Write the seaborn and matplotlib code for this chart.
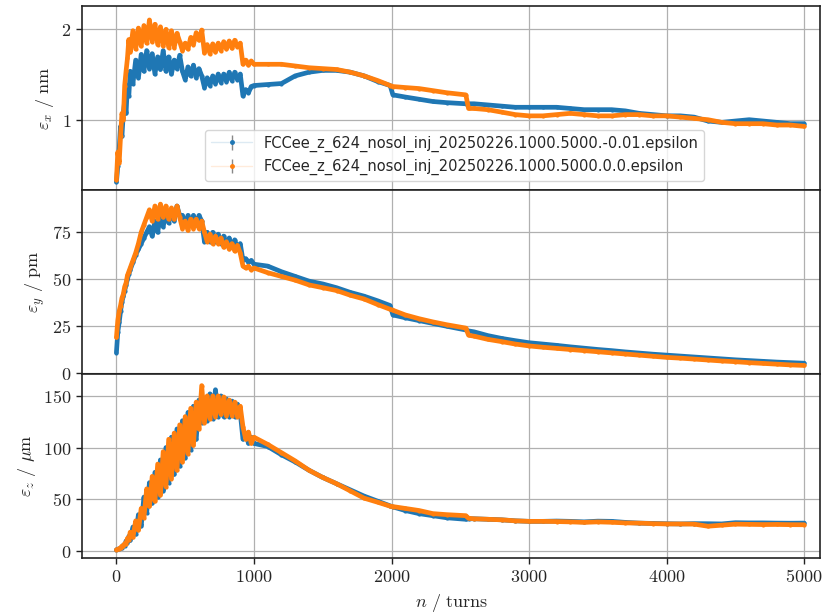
import numpy as np
import pandas as pd
import matplotlib
matplotlib.use("Agg")
import matplotlib.pyplot as plt
import seaborn as sns
from matplotlib.ticker import FixedLocator, FuncFormatter, NullLocator

# ---- data -------------------------------------------------------------
runs = [
    "FCCee_z_624_nosol_inj_20250226.1000.5000.-0.01.epsilon",
    "FCCee_z_624_nosol_inj_20250226.1000.5000.0.0.epsilon",
]
colors = ["#1f77b4", "#ff7f0e"]

turns = [0, 10, 20, 30, 40, 50, 60, 70, 80, 90, 100,
         120, 140, 160, 180, 200, 220, 240, 260, 280, 300,
         320, 340, 360, 380, 400, 420, 440, 460, 480, 500,
         520, 540, 560, 580, 600, 620, 640, 660, 680, 700,
         720, 740, 760, 780, 800, 820, 840, 860, 880, 900,
         920, 940, 960, 980, 1000,
         1100, 1200, 1300, 1400, 1500, 1600, 1700, 1800, 1900, 1990,
         2010, 2100, 2200, 2300, 2400, 2540, 2560, 2600, 2700, 2800,
         2900, 3000, 3100, 3200, 3300, 3400, 3500, 3600, 3700, 3800,
         3900, 4000, 4100, 4200, 4300, 4400, 4500, 4600, 4700, 4800,
         4900, 5000]

# horizontal emittance / nm
eps_x_a = [0.62, 0.70, 0.80, 0.95, 0.88, 1.05, 1.15, 1.05, 1.30, 1.20, 1.45,
           1.32, 1.58, 1.38, 1.65, 1.45, 1.70, 1.48, 1.66, 1.42, 1.62,
           1.47, 1.70, 1.45, 1.62, 1.42, 1.58, 1.48, 1.64, 1.45, 1.36,
           1.50, 1.40, 1.52, 1.38, 1.48, 1.40, 1.28, 1.38, 1.30, 1.40,
           1.32, 1.42, 1.33, 1.42, 1.34, 1.44, 1.35, 1.44, 1.36, 1.42,
           1.20, 1.26, 1.23, 1.29, 1.30,
           1.31, 1.32, 1.40, 1.44, 1.46, 1.46, 1.44, 1.40, 1.34, 1.30,
           1.21, 1.19, 1.17, 1.15, 1.14, 1.13, 1.13, 1.13, 1.12, 1.11,
           1.10, 1.10, 1.10, 1.10, 1.09, 1.08, 1.08, 1.08, 1.07, 1.05,
           1.04, 1.03, 1.03, 1.02, 0.99, 0.98, 0.99, 1.00, 0.99, 0.98,
           0.97, 0.97]
eps_x_b = [0.63, 0.78, 0.72, 0.88, 1.05, 1.00, 1.30, 1.45, 1.60, 1.85, 1.68,
           1.98, 1.72, 2.02, 1.76, 2.06, 1.80, 2.15, 1.82, 2.08, 1.78,
           2.04, 1.76, 2.00, 1.74, 1.98, 1.74, 1.94, 1.82, 1.70, 1.80,
           1.72, 1.88, 1.78, 1.95, 1.84, 1.99, 1.67, 1.78, 1.66, 1.79,
           1.68, 1.80, 1.70, 1.82, 1.72, 1.83, 1.73, 1.84, 1.75, 1.80,
           1.53, 1.58, 1.52, 1.57, 1.53,
           1.53, 1.53, 1.51, 1.49, 1.48, 1.47, 1.44, 1.40, 1.35, 1.30,
           1.29, 1.28, 1.27, 1.25, 1.23, 1.21, 1.09, 1.09, 1.08, 1.06,
           1.04, 1.03, 1.03, 1.04, 1.05, 1.04, 1.03, 1.03, 1.04, 1.04,
           1.03, 1.03, 1.02, 1.01, 1.00, 0.98, 0.97, 0.97, 0.97, 0.96,
           0.96, 0.95]

# vertical emittance / pm
eps_y_a = [11, 22, 27, 33, 38, 41, 44, 47, 50, 53, 55,
           59, 63, 66, 69, 72, 75, 78, 73, 81, 75,
           84, 78, 86, 80, 87, 81, 89, 84, 84, 79,
           84, 79, 84, 79, 84, 81, 70, 75, 70, 75,
           70, 74, 69, 73, 68, 72, 67, 71, 66, 69,
           60, 61, 59, 60, 58,
           57, 54, 51.5, 49, 47.5, 45.5, 43, 41, 38.5, 36,
           31, 29.5, 28, 26.5, 25, 23, 22.5, 22, 20, 18.5,
           17.3, 16.2, 15.5, 14.8, 14, 13.3, 12.6, 12, 11.3, 10.7,
           10.1, 9.6, 9.1, 8.6, 8.1, 7.6, 7.1, 6.7, 6.3, 5.9,
           5.6, 5.3]
eps_y_b = [19, 28, 33, 36, 40, 42, 46, 48, 52, 54, 56,
           60, 64, 69, 75, 79, 83, 87, 81, 89, 82,
           90, 83, 89, 82, 88, 82, 89, 83, 77, 81,
           76, 82, 77, 82, 77, 81, 75, 70, 74, 69,
           73, 69, 72, 67, 70, 66, 69, 65, 68, 64,
           57, 56, 57, 55, 56,
           53.5, 51.5, 49.5, 47, 45.5, 44, 41.5, 39.5, 36.5, 34,
           33.5, 31, 29, 27.3, 25.8, 24, 20.2, 19.7, 18, 16.8,
           15.5, 14.5, 13.8, 13.2, 12.6, 12, 11.4, 10.8, 10.2, 9.6,
           9.0, 8.4, 8.0, 7.5, 7.0, 6.5, 6.1, 5.6, 5.2, 4.8,
           4.4, 4.1]

# longitudinal emittance / um
eps_z_a = [1, 1.5, 2, 2.5, 3, 5.5, 5, 9.5, 8, 14, 10,
           23, 16, 35, 24, 52, 37, 66, 46, 76, 52,
           88, 58, 100, 66, 110, 74, 118, 82, 126, 90,
           134, 98, 140, 108, 146, 124, 148, 126, 152, 128,
           156, 130, 150, 130, 147, 130, 145, 130, 142, 134,
           108, 114, 104, 110, 104,
           101, 93, 86, 78, 71, 65, 59, 53, 48, 43.5,
           42.5, 39, 36, 34, 32, 30.5, 31, 31, 30.5, 30,
           29, 28.5, 28.5, 28.8, 28.5, 28, 28.7, 28.5, 27.5, 26.8,
           26.5, 26.2, 26, 26.3, 26.2, 26, 27.2, 27, 27, 26.8,
           26.7, 26.8]
eps_z_b = [1, 1.5, 2, 3, 4.5, 4.5, 7, 7, 12, 10.5, 18,
           13, 29, 20, 41, 32, 60, 43, 72, 48, 84,
           54, 96, 62, 108, 70, 114, 78, 122, 86, 130,
           94, 138, 102, 144, 118, 160, 124, 150, 128, 150,
           130, 150, 132, 149, 131, 146, 131, 144, 130, 140,
           120, 108, 115, 104, 110,
           103, 95, 87, 78, 71, 65, 58, 51, 47, 43.2,
           42.8, 41, 39, 36, 35, 34, 31.5, 31, 30.5, 30,
           29, 28.5, 28.5, 28.3, 28, 27.5, 28, 27.6, 27, 26.8,
           26.3, 26, 26, 25.8, 23.8, 24.8, 25.8, 25.6, 25.4, 25.5,
           25.3, 25.2]

panels = [
    (eps_x_a, eps_x_b, r"$\varepsilon_x\ /\ \mathrm{nm}$"),
    (eps_y_a, eps_y_b, r"$\varepsilon_y\ /\ \mathrm{pm}$"),
    (eps_z_a, eps_z_b, r"$\varepsilon_z\ /\ \mu\mathrm{m}$"),
]

# ---- style ------------------------------------------------------------
sns.set_style("ticks")
plt.rcParams["font.family"] = ["DejaVu Sans"]
plt.rcParams["mathtext.fontset"] = "cm"
plt.rcParams["axes.edgecolor"] = "#222222"
plt.rcParams["axes.linewidth"] = 1.2

fig, axes = plt.subplots(3, 1, figsize=(8.22, 6.15), dpi=100, sharex=True)
fig.subplots_adjust(left=0.0998, right=0.9976, top=0.990, bottom=0.093, hspace=0)

math_fmt = FuncFormatter(lambda v, p: f"${v:g}$")

for ax, (ya, yb, ylabel) in zip(axes, panels):
    df = pd.DataFrame({
        "turn": turns * 2,
        "value": ya + yb,
        "run": [runs[0]] * len(turns) + [runs[1]] * len(turns),
    })
    sns.lineplot(data=df, x="turn", y="value", hue="run", palette=colors,
                 estimator=None, sort=False, linewidth=3.4, marker="o",
                 markersize=3, markeredgewidth=0, legend=False, ax=ax)
    ax.set_ylabel(ylabel, fontsize=13)
    ax.set_xlabel("")
    ax.grid(True, color="#b0b0b0", linewidth=0.9)
    ax.set_axisbelow(True)
    ax.tick_params(labelsize=13, width=1.0, length=4, color="#222222")
    for s in ax.spines.values():
        s.set_linewidth(1.2)

# top panel on a log scale
axes[0].set_yscale("log")
axes[0].set_ylim(0.583, 2.39)
axes[0].yaxis.set_major_locator(FixedLocator([1, 2]))
axes[0].yaxis.set_minor_locator(NullLocator())
axes[1].set_ylim(-0.4, 97.5)
axes[1].set_yticks([0, 25, 50, 75])
axes[2].set_ylim(-6.8, 171.3)
axes[2].set_yticks([0, 50, 100, 150])
for ax in axes:
    ax.yaxis.set_major_formatter(math_fmt)
    ax.xaxis.set_major_formatter(math_fmt)

axes[2].set_xlim(-250, 5115)
axes[2].set_xticks([0, 1000, 2000, 3000, 4000, 5000])
axes[2].set_xlabel(r"$n\ /\ \mathrm{turns}$", fontsize=13)

# legend entries styled as error-bar markers
handles = []
for c, name in zip(colors, runs):
    rgba = matplotlib.colors.to_rgba(c, 0.15)
    h = axes[0].errorbar([np.nan], [np.nan], yerr=[np.nan], marker="o", ms=2.5,
                         mfc=c, mec=c, color=rgba, lw=1.0, ecolor="#888888",
                         elinewidth=1.0, label=name)
    handles.append(h)
axes[0].set_ylim(0.583, 2.39)
axes[0].legend(handles=handles, labels=runs, loc="lower left",
               bbox_to_anchor=(0.167, 0.049), borderaxespad=0,
               fontsize=10.5, handlelength=2.8, framealpha=0.8,
               edgecolor="#cccccc", fancybox=True)

fig.savefig("out.png", dpi=100)
